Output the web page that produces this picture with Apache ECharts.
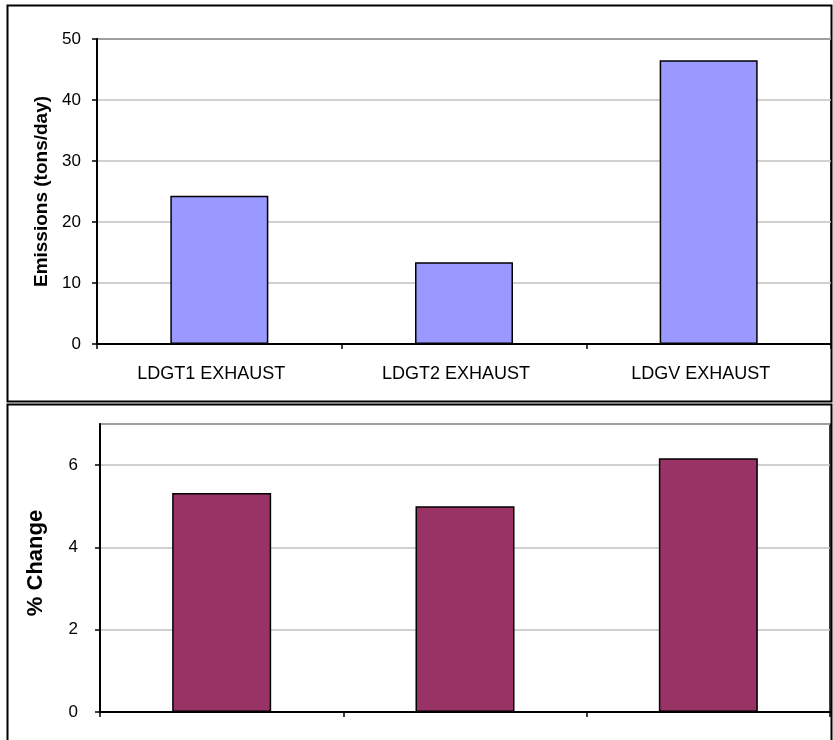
<!DOCTYPE html>
<html>
<head>
<meta charset="utf-8">
<script src="https://cdn.jsdelivr.net/npm/echarts@6/dist/echarts.min.js"></script>
<style>
  html, body { margin: 0; padding: 0; background: #fff; }
  #chart { width: 833px; height: 740px; }
</style>
</head>
<body>
<div id="chart"></div>
<script>
// Categories shared by both panels
const categories = ['LDGT1 EXHAUST', 'LDGT2 EXHAUST', 'LDGV EXHAUST'];
// Upper panel: emissions in tons per day
const emissions = [24.3, 13.4, 46.5];
// Lower panel: percent change
const pctChange = [5.32, 5.0, 6.17];

const FONT = 'Arial, "Liberation Sans", sans-serif';

const chart = echarts.init(document.getElementById('chart'), null, { renderer: 'canvas' });

const axisLineStyle = { color: '#000', width: 2 };
const tickStyle = { show: true, length: 5, lineStyle: { color: '#000', width: 1.5 } };

chart.setOption({
  animation: false,
  backgroundColor: '#fff',
  graphic: [
    { type: 'rect', shape: { x: 7.5, y: 5.5, width: 824, height: 396 },
      style: { fill: 'none', stroke: '#000', lineWidth: 2 }, z: -1 },
    { type: 'rect', shape: { x: 7.5, y: 404.5, width: 824, height: 360 },
      style: { fill: 'none', stroke: '#000', lineWidth: 2 }, z: -1 }
  ],
  grid: [
    { left: 97, top: 39, width: 734, height: 305, show: true, borderColor: '#000', borderWidth: 1.5, containLabel: false },
    { left: 100, top: 424, width: 730, height: 288, show: true, borderColor: '#000', borderWidth: 1.5, containLabel: false }
  ],
  xAxis: [
    {
      type: 'category', gridIndex: 0, data: categories,
      axisLine: { lineStyle: axisLineStyle },
      axisTick: tickStyle,
      axisLabel: { color: '#000', fontFamily: FONT, fontSize: 18, margin: 21, padding: [0, 16, 0, 0] }
    },
    {
      type: 'category', gridIndex: 1, data: categories,
      axisLine: { lineStyle: axisLineStyle },
      axisTick: tickStyle,
      axisLabel: { show: false }
    }
  ],
  yAxis: [
    {
      type: 'value', gridIndex: 0, min: 0, max: 50, interval: 10,
      name: 'Emissions (tons/day)', nameLocation: 'middle', nameGap: 45,
      nameTextStyle: { color: '#000', fontFamily: FONT, fontSize: 19, fontWeight: 'bold' },
      axisLine: { show: true, lineStyle: axisLineStyle },
      axisTick: tickStyle,
      axisLabel: { color: '#000', fontFamily: FONT, fontSize: 17, margin: 16 },
      splitLine: { lineStyle: { color: '#c0c0c0', width: 1.5 } }
    },
    {
      type: 'value', gridIndex: 1, min: 0, max: 7, interval: 2,
      name: '% Change', nameLocation: 'middle', nameGap: 53,
      nameTextStyle: { color: '#000', fontFamily: FONT, fontSize: 22, fontWeight: 'bold', padding: [0, 0, 0, 10] },
      axisLine: { show: true, lineStyle: axisLineStyle },
      axisTick: tickStyle,
      axisLabel: { color: '#000', fontFamily: FONT, fontSize: 17, margin: 22, showMaxLabel: false },
      splitLine: { lineStyle: { color: '#c0c0c0', width: 1.5 } }
    }
  ],
  series: [
    {
      type: 'bar', xAxisIndex: 0, yAxisIndex: 0, data: emissions,
      barWidth: 98,
      itemStyle: { color: '#9999FF', borderColor: '#000', borderWidth: 1.5 }
    },
    {
      type: 'bar', xAxisIndex: 1, yAxisIndex: 1, data: pctChange,
      barWidth: 99,
      itemStyle: { color: '#993366', borderColor: '#000', borderWidth: 1.5 }
    }
  ]
});
</script>
</body>
</html>
